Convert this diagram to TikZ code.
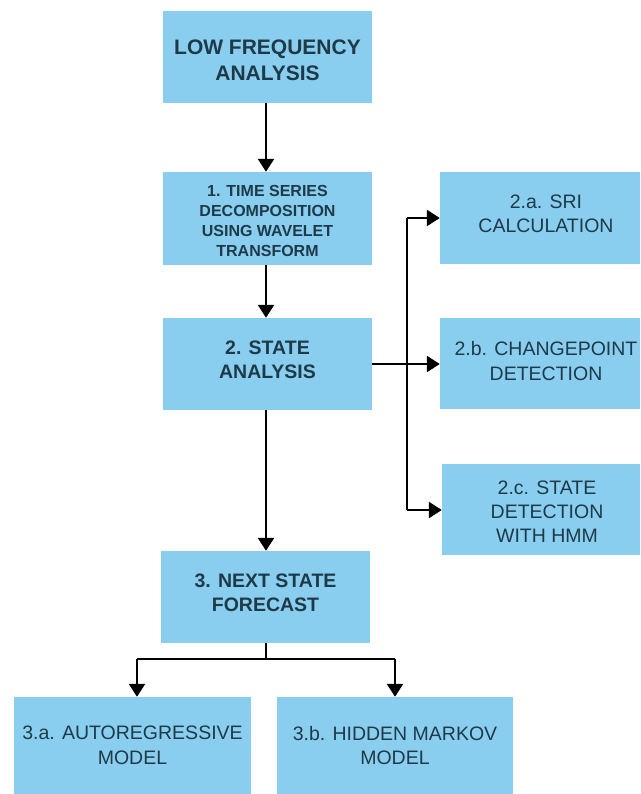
\documentclass[tikz,border=0pt]{standalone}
\usepackage{fontspec}
\setmainfont{Liberation Sans}
\usetikzlibrary{arrows.meta}
\definecolor{boxfill}{RGB}{138,206,239}
\definecolor{txt}{RGB}{30,58,72}
\newcommand{\shiftedlines}[2]{\raisebox{#1}[0pt][0pt]{\begin{tabular}{@{}c@{}}#2\end{tabular}}}
\tikzset{
  box/.style={fill=boxfill, draw=none, inner sep=0pt, align=center, text=txt},
  boldA/.style={font=\bfseries\fontsize{21}{25.5}\selectfont},
  boldB/.style={font=\bfseries\fontsize{16}{19.8}\selectfont},
  boldC/.style={font=\bfseries\fontsize{19.5}{24}\selectfont},
  plain/.style={font=\fontsize{19.5}{24.5}\selectfont},
  conn/.style={line width=2.4pt, black},
  arr/.style={conn, -{Triangle[width=16pt,length=13pt]}}
}
\begin{document}
\begin{tikzpicture}[x=1pt,y=-1pt]
\useasboundingbox (0,0) rectangle (640,794);
\clip (0,0) rectangle (640,794);
\fill[white] (0,0) rectangle (640,794);
\node[box, boldA, minimum width=209pt, minimum height=92pt] (low) at (267.5,57) {\shiftedlines{-10.2pt}{LOW FREQUENCY\\[0.5pt]ANALYSIS}};
\node[box, boldB, minimum width=209pt, minimum height=93pt] (n1) at (267.5,218.5) {\shiftedlines{-8.5pt}{1. TIME SERIES\\DECOMPOSITION\\USING WAVELET\\TRANSFORM}};
\node[box, boldC, minimum width=209pt, minimum height=92pt] (n2) at (267.5,364) {\shiftedlines{-2.9pt}{2. STATE\\ANALYSIS}};
\node[box, boldC, minimum width=209pt, minimum height=92pt] (n3) at (265.5,597) {\shiftedlines{-2.9pt}{3. NEXT STATE\\FORECAST}};
\node[box, plain, minimum width=212pt, minimum height=92pt] (n2a) at (546,218) {\shiftedlines{-2.9pt}{2.a. SRI\\CALCULATION}};
\node[box, plain, minimum width=212pt, minimum height=91pt] (n2b) at (546,363.5) {\shiftedlines{-4.9pt}{2.b. CHANGEPOINT\\DETECTION}};
\node[box, plain, minimum width=210pt, minimum height=91pt] (n2c) at (547,509.5) {\shiftedlines{-9.4pt}{2.c. STATE\\[-0.5pt]DETECTION\\[-0.5pt]WITH HMM}};
\node[box, plain, minimum width=237pt, minimum height=97pt] (n3a) at (132.5,745.5) {3.a. AUTOREGRESSIVE\\MODEL};
\node[box, plain, minimum width=236pt, minimum height=97pt] (n3b) at (395,745.5) {3.b. HIDDEN MARKOV\\MODEL};
% vertical main flow
\draw[arr] (low.south -| 266,0) -- (n1.north -| 266,0);
\draw[arr] (n1.south -| 266,0) -- (n2.north -| 266,0);
\draw[arr] (n2.south -| 266,0) -- (n3.north -| 266,0);
% state analysis branches
\coordinate (ta) at (407,218);
\coordinate (tc) at (407,510);
\draw[arr] (n2.east) -- (n2.east -| n2b.west);
\draw[conn] (ta) -- (tc);
\draw[arr] (ta) -- (ta -| n2a.west);
\draw[arr] (tc) -- (tc -| n2c.west);
% forecast branches
\coordinate (jl) at (137,659);
\coordinate (jr) at (395,659);
\draw[conn] (n3.south -| 266,0) -- (266,659);
\draw[conn] (jl) -- (jr);
\draw[arr] (jl) -- (jl |- n3a.north);
\draw[arr] (jr) -- (jr |- n3b.north);
\end{tikzpicture}
\end{document}
